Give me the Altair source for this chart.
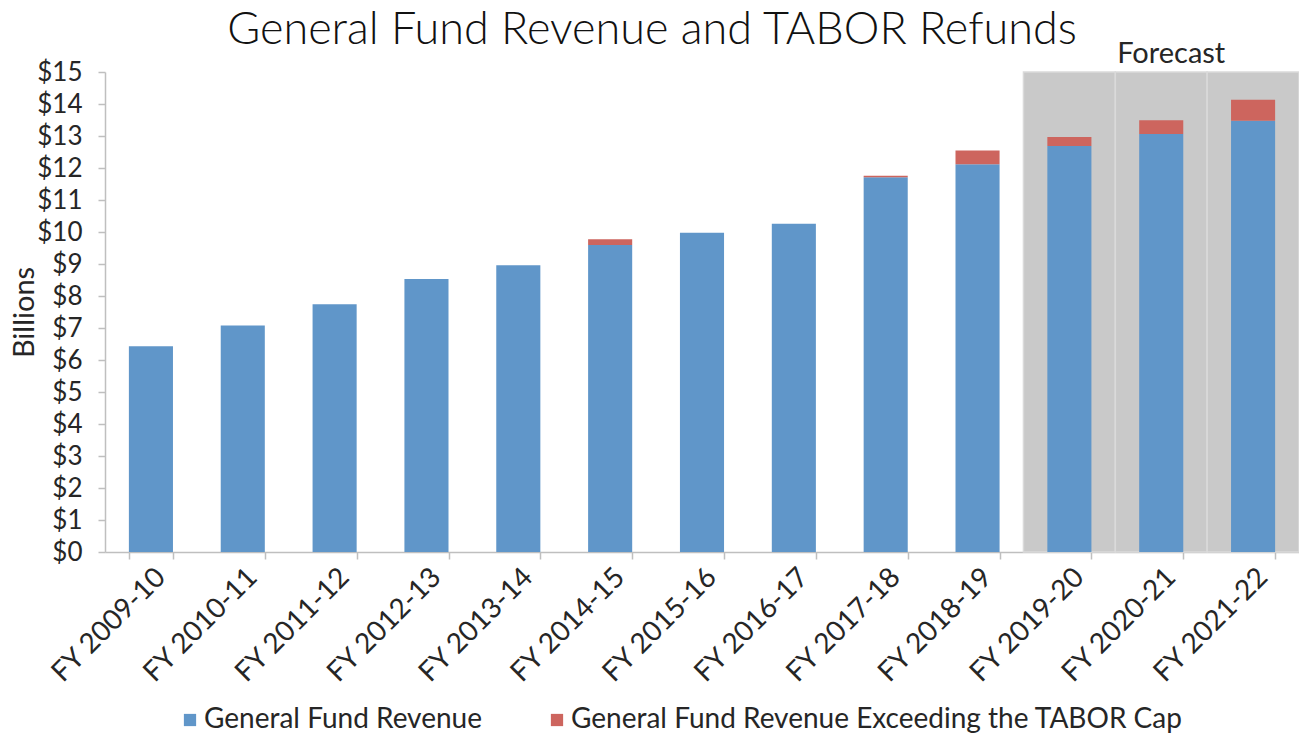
import altair as alt
import pandas as pd

years = ["FY 2009-10", "FY 2010-11", "FY 2011-12", "FY 2012-13", "FY 2013-14",
         "FY 2014-15", "FY 2015-16", "FY 2016-17", "FY 2017-18", "FY 2018-19",
         "FY 2019-20", "FY 2020-21", "FY 2021-22"]
revenue = [6.43, 7.08, 7.74, 8.53, 8.96, 9.59, 9.98, 10.26, 11.71, 12.12, 12.69, 13.06, 13.48]
excess = [0, 0, 0, 0, 0, 0.18, 0, 0, 0.05, 0.43, 0.28, 0.43, 0.65]
forecast_years = ["FY 2019-20", "FY 2020-21", "FY 2021-22"]
series_names = ["General Fund Revenue", "General Fund Revenue Exceeding the TABOR Cap"]
colors = ["#6096C9", "#CD655E"]
y_ticks = list(range(0, 16))
title_text = "General Fund Revenue and TABOR Refunds"

rows = []
for y, r, e in zip(years, revenue, excess):
    rows.append({"year": y, "series": series_names[0], "value": r, "order": 0})
    rows.append({"year": y, "series": series_names[1], "value": e, "order": 1})
bars_df = pd.DataFrame(rows)
shade_df = pd.DataFrame({"year": forecast_years, "top": [15] * 3, "bottom": [0] * 3})
label_df = pd.DataFrame({"year": [forecast_years[1]], "text": ["Forecast"]})
title_df = pd.DataFrame({"text": [title_text]})

FONT = "Lato"
TXT = "#262626"
AX = "#BFBFBF"

x_enc = alt.X("year:N", sort=years, title=None,
              scale=alt.Scale(paddingInner=0.52, paddingOuter=0.26),
              axis=alt.Axis(labelAngle=-45, labelFontSize=28, labelFont=FONT, labelColor=TXT,
                            tickBand="extent", tickSize=7, tickColor=AX, tickWidth=1.5,
                            domainColor=AX, domainWidth=1.5, labelPadding=4))
y_scale = alt.Scale(domain=[0, 15], nice=False)
y_axis = alt.Axis(values=y_ticks, labelExpr="'$' + datum.value", grid=False,
                  labelOverlap=False, labelFlush=False,
                  labelFontSize=26, labelFont=FONT, labelColor=TXT,
                  tickSize=7, tickColor=AX, tickWidth=1.5, domainColor=AX, domainWidth=1.5,
                  labelPadding=16, titleFontSize=29, titleFont=FONT, titleColor=TXT,
                  titleFontWeight="normal", titleX=-81, titleY=240,
                  titleAngle=-90, titleBaseline="middle", titleAlign="center")

shade = alt.Chart(shade_df).mark_bar(color="#C9C9C9", stroke="#DADADA", strokeWidth=1.5,
                                     width=alt.RelativeBandSize(1 / 0.48)).encode(
    x=x_enc,
    y=alt.Y("top:Q", scale=y_scale, title="Billions", axis=y_axis),
    y2="bottom:Q",
)

bars = alt.Chart(bars_df).mark_bar().encode(
    x=x_enc,
    y=alt.Y("value:Q", stack="zero", scale=y_scale, title="Billions", axis=y_axis),
    color=alt.Color("series:N", scale=alt.Scale(domain=series_names, range=colors),
                    legend=alt.Legend(title=None, orient="none", legendX=71, legendY=634,
                                      direction="horizontal", symbolType="square",
                                      symbolSize=150, symbolStrokeWidth=0,
                                      labelFontSize=28, labelFont=FONT, labelColor=TXT,
                                      labelLimit=0,
                                      labelOffset=0, columnPadding=61, padding=0)),
    order=alt.Order("order:Q"),
)

fc = alt.Chart(label_df).mark_text(font=FONT, fontSize=29, color=TXT, baseline="alphabetic",
                                   dx=10).encode(
    x=alt.X("year:N", sort=years),
    y=alt.value(-9),
    text="text:N",
)

ttl = alt.Chart(title_df).mark_text(font=FONT, fontSize=45, fontWeight=300, color="#111111",
                                    baseline="alphabetic", align="center").encode(
    x=alt.value(547),
    y=alt.value(-28),
    text="text:N",
)

chart = alt.layer(shade, bars, fc, ttl).properties(
    width=1194, height=480,
    padding={"left": 97, "top": 64, "right": 0, "bottom": 185},
    autosize=alt.AutoSizeParams(type="none"),
).configure_view(stroke=None)

chart.save("out.html", embed_options={"renderer": "svg", "actions": False})
